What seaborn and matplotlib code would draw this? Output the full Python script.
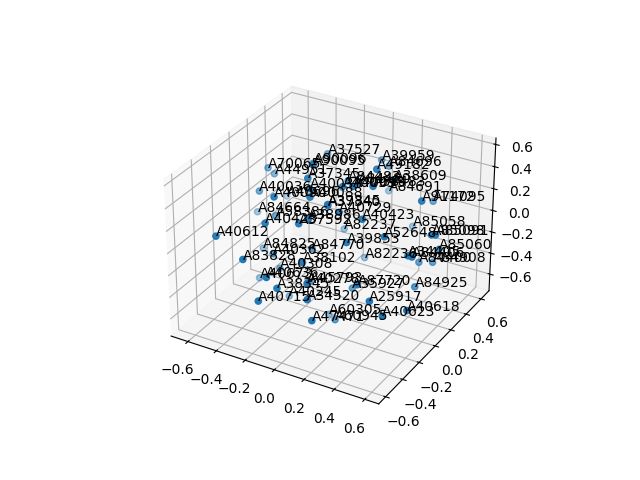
import matplotlib
matplotlib.use("Agg")
import matplotlib.pyplot as plt
import seaborn as sns

labels = ["A37527","A39959","A84696","A49182","A90095","A90096","A70065","A44951","A37345","A40036","A40090","A40696","A40088","A40033",
"A38609","A84483","A84691","A40093","A40095","A84480","A38483","A91172","A74095","A40423","A40729","A38986","A39845","A37340","A84664",
"A40425","A58386","A37592","A82237","A40612","A39853","A84770","A52648","A85058","A85098","A85091","A85060","A82236","A34405","A84406","A84400","A84908",
"A84925","A25917","A40618","A40623","A35927","A87720","A45793","A40278","A38345","A40245","A34520","A40715","A47471","A60305","A60945","A40673","A40636",
"A83828","A84825","A40362","A40308","A38102"]
xs = [-0.19,0.10,0.15,0.25,-0.16,-0.16,-0.47,-0.47,-0.08,-0.47,-0.21,-0.49,-0.03,-0.05,
0.35,0.13,0.08,0.11,0.16,0.18,0.26,0.53,0.44,0.27,0.14,-0.00,0.07,0.07,-0.57,
-0.21,-0.34,-0.04,-0.08,-0.43,0.23,-0.09,0.41,0.27,0.64,0.66,0.63,0.08,0.56,0.58,0.48,0.55,
0.54,0.45,0.65,0.54,0.19,0.36,-0.04,0.11,-0.03,-0.24,0.14,-0.10,0.20,-0.00,0.16,-0.43,-0.10,
-0.25,-0.47,-0.28,-0.26,0.05]
ys = [0.25,0.39,0.39,0.06,0.03,0.04,0.03,0.10,-0.16,-0.07,-0.32,0.27,-0.22,-0.19,
0.08,-0.06,0.52,-0.09,-0.06,-0.03,-0.00,0.09,0.41,-0.14,-0.18,-0.29,-0.19,-0.19,0.06,
-0.42,-0.10,-0.33,0.26,-0.60,-0.25,-0.10,-0.13,0.48,0.01,0.02,0.13,0.23,-0.12,-0.11,0.17,0.21,
0.01,-0.37,-0.29,-0.38,-0.11,-0.35,-0.21,-0.49,-0.59,-0.12,-0.54,-0.68,-0.59,-0.06,-0.26,-0.15,-0.59,
-0.60,-0.04,-0.23,-0.19,-0.44]
zs = [0.491,0.452,0.413,0.628,0.540,0.549,0.403,0.305,0.569,0.256,0.461,-0.017,0.461,0.510,
0.559,0.559,0.080,0.520,0.520,0.540,0.520,0.432,0.188,0.325,0.364,0.325,0.413,0.403,-0.056,
0.295,0.100,0.295,-0.164,0.217,0.178,-0.105,0.217,-0.154,0.227,0.227,0.012,-0.350,0.100,0.090,-0.193,-0.193,
-0.281,-0.174,-0.232,-0.262,-0.350,-0.076,-0.311,-0.066,-0.096,-0.594,-0.164,-0.174,-0.291,-0.711,-0.545,-0.477,-0.027,
0.080,-0.291,-0.135,-0.291,0.061]

fig = plt.figure(figsize=(6.4,4.8),dpi=100)
ax = fig.add_subplot(projection="3d")
c = sns.color_palette("tab10")[0]
ax.scatter(xs,ys,zs,color=c)
for l,x,y,z in zip(labels,xs,ys,zs):
    ax.text(x,y,z,l)
ax.set_xlim(-0.72,0.69); ax.set_ylim(-0.68,0.71); ax.set_zlim(-0.76,0.657)
fig.savefig("out.png",dpi=100)
